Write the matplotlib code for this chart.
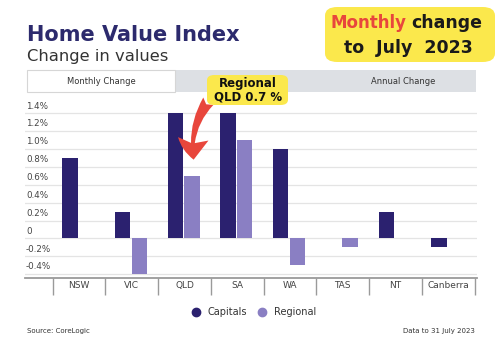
import matplotlib
matplotlib.use("Agg")
import matplotlib.pyplot as plt
import numpy as np
from matplotlib.lines import Line2D
from matplotlib.patches import FancyBboxPatch, Rectangle

# Data (monthly change to July 2023, %)
regions = ["NSW", "VIC", "QLD", "SA", "WA", "TAS", "NT", "Canberra"]
capitals = [0.9, 0.3, 1.4, 1.4, 1.0, 0.0, 0.3, -0.1]
regional = [0.0, -0.4, 0.7, 1.1, -0.3, -0.1, 0.0, 0.0]
y_ticks = [1.4, 1.2, 1.0, 0.8, 0.6, 0.4, 0.2, 0.0, -0.2, -0.4]
y_labels = ["1.4%", "1.2%", "1.0%", "0.8%", "0.6%", "0.4%", "0.2%", "0", "-0.2%", "-0.4%"]

NAVY = "#2b216f"
LILAC = "#8a7fc3"
YELLOW = "#fbe84c"
RED = "#e8463c"
TEXT = "#333333"

W, H = 497, 344
fig = plt.figure(figsize=(W / 100, H / 100), dpi=100)
fig.patch.set_facecolor("white")


def fx(x):
    return x / W


def fy(y):
    return 1 - y / H


# axes placed in pixel terms of the reference
ax = fig.add_axes([fx(25), fy(277.7), fx(476.7) - fx(25), fy(108.8) - fy(277.7)])
ax.set_xlim(-0.526, 8.04)
ax.set_ylim(-0.44, 1.45)

x = np.arange(len(regions)) + 0.5
ax.bar(x - 0.175, capitals, width=0.29, color=NAVY, zorder=3)
ax.bar(x + 0.14, regional, width=0.29, color=LILAC, zorder=3)

# gridlines + inline y labels
for v, lab in zip(y_ticks, y_labels):
    ax.axhline(v, color="#e4e4e4", lw=0.9, zorder=1)
    ax.text(0.002, v + 0.03, lab, transform=ax.get_yaxis_transform(),
            ha="left", va="bottom", fontsize=6.3, color="#444444")

for s in ["top", "right", "left"]:
    ax.spines[s].set_visible(False)
ax.spines["bottom"].set_color("#9a9a9a")
ax.spines["bottom"].set_linewidth(1.3)
ax.set_yticks([])

ax.set_xticks(np.arange(len(regions) + 1))
ax.set_xticklabels([])
ax.tick_params(axis="x", which="major", length=12, width=1.0, color="#9a9a9a", direction="out")
ax.set_xticks(x, minor=True)
ax.set_xticklabels(regions, minor=True, fontsize=6.5, color="#444444")
ax.tick_params(axis="x", which="minor", length=0, pad=2.5)

# title block
fig.text(fx(27), fy(41), "Home Value Index", fontsize=15, fontweight="bold",
         color="#2c2a6d", va="baseline", ha="left")
fig.text(fx(27), fy(61), "Change in values", fontsize=11.8, color=TEXT,
         va="baseline", ha="left")

# tab bar
fig.patches.append(Rectangle((fx(175), fy(92)), fx(476) - fx(175), fy(70) - fy(92),
                             transform=fig.transFigure, facecolor="#dde0e4",
                             edgecolor="none", zorder=0))
fig.patches.append(Rectangle((fx(27), fy(92)), fx(175) - fx(27), fy(70) - fy(92),
                             transform=fig.transFigure, facecolor="white",
                             edgecolor="#d6d6d6", lw=0.8, zorder=0))
fig.text(fx(101), fy(81), "Monthly Change", fontsize=6, color=TEXT, ha="center", va="center")
fig.text(fx(403), fy(81), "Annual Change", fontsize=6, color=TEXT, ha="center", va="center")

# headline badge
fig.patches.append(FancyBboxPatch((fx(325), fy(62)), fx(495) - fx(325), fy(7) - fy(62),
                                  boxstyle="round,pad=0,rounding_size=0.025",
                                  transform=fig.transFigure, facecolor=YELLOW,
                                  edgecolor="none", zorder=2))
fig.text(fx(331), fy(28), "Monthly", fontsize=12, fontweight="bold", color=RED,
         ha="left", va="baseline", zorder=3)
fig.text(fx(411), fy(28), "change", fontsize=12.5, fontweight="bold", color="#1a1a1a",
         ha="left", va="baseline", zorder=3)
fig.text(fx(408), fy(53), "to  July  2023", fontsize=12.5, fontweight="bold", color="#1a1a1a",
         ha="center", va="baseline", zorder=3)

# QLD regional callout
fig.patches.append(FancyBboxPatch((fx(207), fy(105)), fx(288) - fx(207), fy(75) - fy(105),
                                  boxstyle="round,pad=0,rounding_size=0.015",
                                  transform=fig.transFigure, facecolor=YELLOW,
                                  edgecolor="none", zorder=5))
fig.text(fx(248), fy(83), "Regional", fontsize=8.5, fontweight="bold", color="#111111",
         ha="center", va="center", zorder=6)
fig.text(fx(248), fy(97), "QLD 0.7 %", fontsize=8.5, fontweight="bold", color="#111111",
         ha="center", va="center", zorder=6)
ax.annotate("", xy=(2.68, 0.85), xycoords="data",
            xytext=(fx(210), fy(99)), textcoords="figure fraction",
            arrowprops=dict(arrowstyle="fancy,head_length=1.5,head_width=2.2,tail_width=0.9",
                            connectionstyle="arc3,rad=0.22", color=RED, lw=0),
            zorder=6, annotation_clip=False)

# legend
handles = [
    Line2D([], [], marker="o", ls="", color=NAVY, markersize=6, label="Capitals"),
    Line2D([], [], marker="o", ls="", color=LILAC, markersize=6, label="Regional"),
]
fig.legend(handles=handles, loc="center", bbox_to_anchor=(fx(251), fy(312)), ncol=2,
           frameon=False, fontsize=7, handletextpad=0.2, columnspacing=0.6,
           labelcolor=TEXT)

# footer
fig.text(fx(27), fy(331), "Source: CoreLogic", fontsize=5, color=TEXT, ha="left", va="center")
fig.text(fx(475), fy(331), "Data to 31 July 2023", fontsize=5, color=TEXT, ha="right", va="center")

fig.savefig("out.png", dpi=100)
